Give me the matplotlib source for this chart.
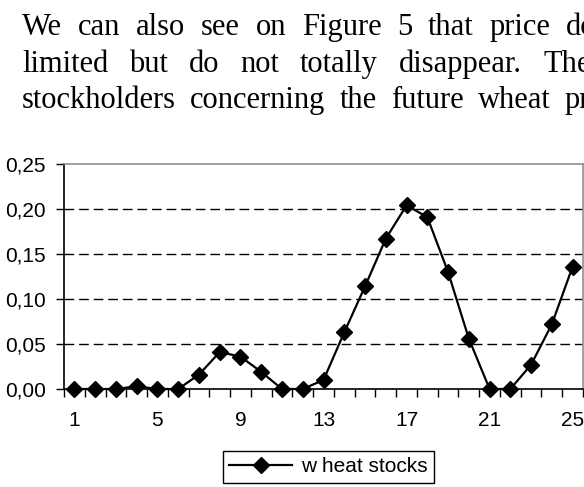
import matplotlib
matplotlib.use("Agg")
import matplotlib.pyplot as plt
from matplotlib.ticker import FixedLocator, NullFormatter, FixedFormatter

# data (periods 1..25)
periods = list(range(1, 26))
wheat_stocks = [0.000, 0.000, 0.000, 0.003, 0.000, 0.000, 0.016, 0.041, 0.036, 0.019,
                0.000, 0.000, 0.010, 0.063, 0.114, 0.167, 0.204, 0.191, 0.130, 0.056,
                0.000, 0.000, 0.027, 0.072, 0.136]
y_ticks = [0.00, 0.05, 0.10, 0.15, 0.20, 0.25]
y_labels = ["0,00", "0,05", "0,10", "0,15", "0,20", "0,25"]
x_label_periods = [1, 5, 9, 13, 17, 21, 25]
series_name = "w heat stocks"

# paragraph text above the chart (cut off at the right like the page scan)
para_lines = [
    "We can also see on Figure 5 that price do",
    "limited but do not totally disappear. The",
    "stockholders concerning the future wheat pr",
]
# x pixel where the last word of each line starts (justified text)
last_word_x = [566, 543, 565]
baselines = [35, 72, 108]

W, H = 584, 487
fig = plt.figure(figsize=(W / 100, H / 100), dpi=100)

#paragraph, placed word by word to mimic justification
renderer = fig.canvas.get_renderer()
for line, x_end, base in zip(para_lines, last_word_x, baselines):
    words = line.split(" ")
    widths = []
    for w in words:
        t = fig.text(0, 0, w, fontsize=22, family="Liberation Serif")
        widths.append(t.get_window_extent(renderer).width)
        t.remove()
    gap = (x_end - 22 - sum(widths[:-1])) / (len(words) - 1)
    x = 22
    for w, wd in zip(words, widths):
        fig.text(x / W, 1 - base / H, w, fontsize=22, family="Liberation Serif",
                 va="baseline", ha="left")
        x += wd + gap

# chart
ax_left, ax_right, ax_top, ax_bot = 64, 583, 164, 389
ax = fig.add_axes([ax_left / W, 1 - ax_bot / H, (ax_right - ax_left) / W, (ax_bot - ax_top) / H])

line, = ax.plot(periods, wheat_stocks, color="black", lw=1.6, marker="D", ms=8.5,
                label=series_name, clip_on=False, zorder=3)

ax.set_xlim(0.5, 25.5)
ax.set_ylim(0, 0.25)

for y in y_ticks[1:-1]:
    ax.axhline(y, color="black", lw=1, linestyle=(0, (7, 3.5)), zorder=1)

ax.spines["left"].set_color("black")
ax.spines["bottom"].set_color("black")
ax.spines["top"].set_color("#909090")
ax.spines["right"].set_color("#909090")
for s in ax.spines.values():
    s.set_linewidth(1.2)

ax.yaxis.set_major_locator(FixedLocator(y_ticks))
ax.yaxis.set_major_formatter(FixedFormatter(y_labels))
ax.tick_params(axis="y", direction="out", length=6, width=1, pad=7,
               labelsize=15, labelfontfamily="Liberation Sans")

# tick marks between categories, labels every 4th category
ax.xaxis.set_major_locator(FixedLocator([p - 0.5 for p in periods] + [periods[-1] + 0.5]))
ax.xaxis.set_major_formatter(NullFormatter())
ax.xaxis.set_minor_locator(FixedLocator(x_label_periods))
ax.xaxis.set_minor_formatter(FixedFormatter([str(p) for p in x_label_periods]))
ax.tick_params(axis="x", which="major", direction="out", length=6, width=1)
ax.tick_params(axis="x", which="minor", length=0, pad=16,
               labelsize=15, labelfontfamily="Liberation Sans")

leg = fig.legend(handles=[line], loc="upper left",
                 bbox_to_anchor=(223 / W, 1 - 451 / H), borderaxespad=0,
                 fancybox=False, edgecolor="black", framealpha=1,
                 handlelength=3.0, handletextpad=0.45, borderpad=0.3,
                 prop={"family": "Liberation Sans", "size": 15})
leg.get_frame().set_linewidth(1)

fig.savefig("out.png", dpi=100)
